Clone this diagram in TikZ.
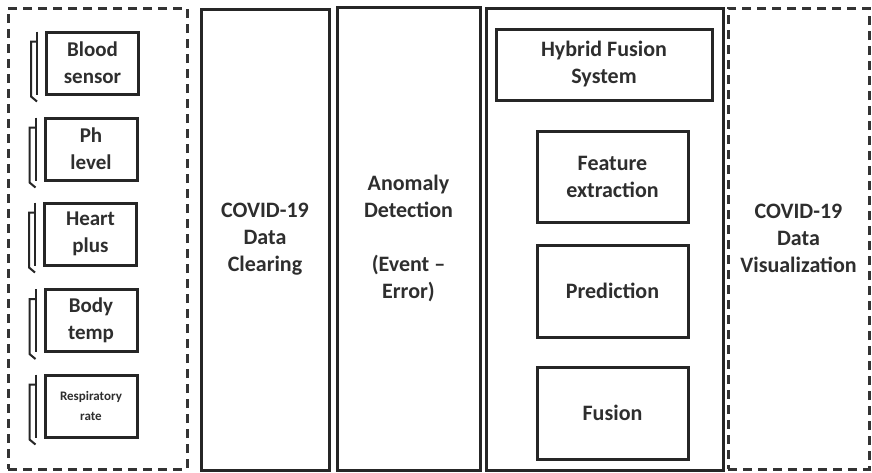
\documentclass[tikz,border=0pt]{standalone}
\usepackage{fontspec}
\setmainfont{Carlito}
\begin{document}
\begin{tikzpicture}[x=1pt,y=-1pt,
  sbox/.style={draw=black!85, line width=3pt, inner sep=0pt, text=black!82, align=center},
  dbox/.style={draw=black!80, line width=3pt, dash pattern=on 9pt off 6pt, inner sep=0pt},
  big/.style={font=\bfseries\fontsize{22}{27}\selectfont},
  sens/.style={sbox, minimum width=92pt, minimum height=62pt, font=\bfseries\fontsize{21}{27}\selectfont},
  brk/.style={draw=black!85, line width=2pt}]
\useasboundingbox (0,0) rectangle (872,472);
\fill[white] (0,0) rectangle (872,472);

% dashed outer groups
\node[dbox, minimum width=179pt, minimum height=461pt] (inp) at (97.5,238.5) {};
\node[dbox, minimum width=141pt, minimum height=461pt, text=black!82, align=center, big] (vis) at (798.5,238.5) {COVID-19\\Data\\Visualization};

% sensors
\node[sens] (blood) at (92.5,63) {Blood\\sensor};
\node[sens] (ph) at (91,149) {Ph\\level};
\node[sens] (heart) at (90.5,234) {Heart\\plus};
\node[sens] (body) at (91,320.5) {Body\\temp};
\node[sens, font=\bfseries\fontsize{13}{20}\selectfont] (resp) at (91,406) {Respiratory\\rate};

\foreach \b in {blood,ph,heart,body,resp}{
  \draw[brk] ([shift={(-8pt,-1pt)}]\b.north west) -- ([shift={(-8pt,1pt)}]\b.south west);
  \draw[brk] ([shift={(-8pt,-11pt)}]\b.north west) -- ([shift={(-14pt,-11pt)}]\b.north west)
     -- ([shift={(-14pt,-1pt)}]\b.south west) -- ([shift={(-8pt,-6pt)}]\b.south west);
}

% columns
\node[sbox, big, minimum width=128pt, minimum height=461pt] (clear) at (265,239.5) {COVID-19\\Data\\Clearing};
\node[sbox, big, minimum width=143pt, minimum height=463pt] (anom) at (408.5,238.5) {Anomaly\\Detection\\\mbox{}\\(Event –\\Error)};
\node[sbox, minimum width=237pt, minimum height=462pt] (hyb) at (604.5,239) {};

% hybrid contents
\node[sbox, big, minimum width=216pt, minimum height=71pt] (hfs) at (604,64.5) {Hybrid Fusion\\System};
\node[sbox, big, minimum width=151pt, minimum height=91pt] (feat) at (612.5,176.5) {Feature\\extraction};
\node[sbox, big, minimum width=151pt, minimum height=92pt] (pred) at (612.5,291) {Prediction};
\node[sbox, big, minimum width=151pt, minimum height=92pt] (fus) at (612.5,413) {Fusion};
\end{tikzpicture}
\end{document}
